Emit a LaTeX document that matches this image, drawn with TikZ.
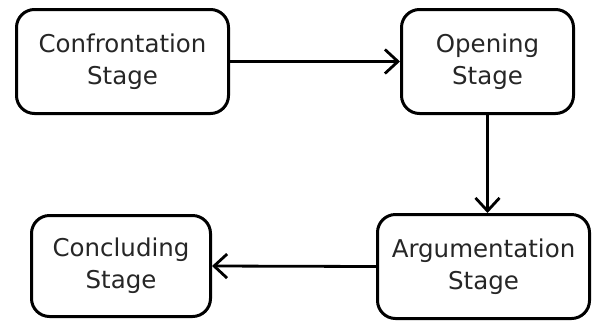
\documentclass[tikz,border=0pt]{standalone}
\usepackage{fontspec}
\setmainfont{DejaVu Sans}
\usepackage{tikz}
\usetikzlibrary{arrows.meta}
\usetikzlibrary{positioning}

\tikzset{
    stagebox/.style={draw, line width=3pt, rounded corners=18pt, align=center,
                     font=\fontsize{24.5}{32}\selectfont, text=black!85, inner sep=0pt},
    flow/.style={line width=2.8pt, -{Straight Barb[length=13pt,width=24pt,line width=2.8pt]}}
}

\begin{document}
\begin{tikzpicture}[x=1pt, y=-1pt]
            % Frame to fix the page size
            \useasboundingbox                                                  (0,0) rectangle (593,322);
            % Stages
            \node[stagebox, minimum width=212pt, minimum height=104pt] (confront) at (122.5, 61.5) {Confrontation\\Stage};
            \node[stagebox, minimum width=172pt, minimum height=104pt] (opening)  at (487.5, 61.5) {Opening\\Stage};
            \node[stagebox, minimum width=212pt, minimum height=104pt] (argument) at (483.5,266.5) {Argumentation\\Stage};
            \node[stagebox, minimum width=179pt, minimum height=101pt] (conclude) at (121.0,266.0) {Concluding\\Stage};
            % Transitions
            \draw[flow] (confront.east) -- (opening.west);
            \draw[flow] (opening.south) -- (opening.south |- argument.north);
            \draw[flow] (argument.west) -- (conclude.east);
        \end{tikzpicture}
\end{document}
